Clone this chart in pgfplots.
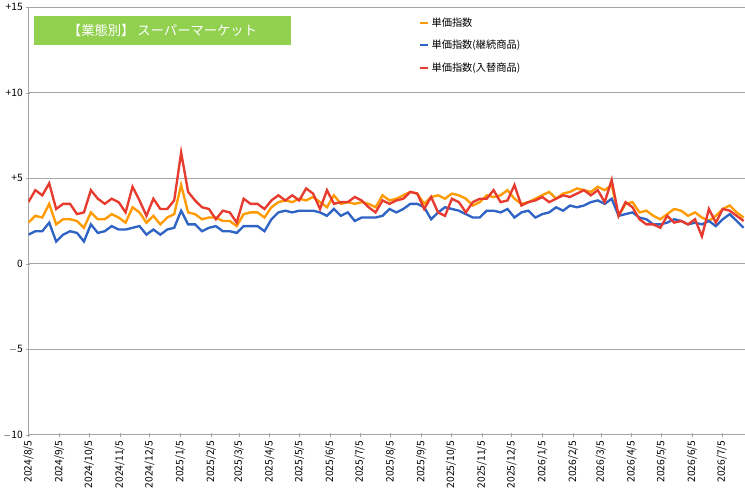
\documentclass[border=0pt]{standalone}
\usepackage{pgfplots}
\pgfplotsset{compat=1.18}
\usepackage{pgfplotstable}
\usepackage{fontspec}
\setmainfont{Noto Sans CJK JP}
\definecolor{cO}{HTML}{FF9A00}
\definecolor{cB}{HTML}{2F63C4}
\definecolor{cR}{HTML}{E63B2E}
\definecolor{cG}{HTML}{92D050}
\pgfplotstableread[row sep=\\]{y\\2.4\\2.8\\2.7\\3.5\\2.3\\2.6\\2.6\\2.5\\2.1\\3.0\\2.6\\2.6\\2.9\\2.7\\2.4\\3.3\\3.0\\2.4\\2.8\\2.3\\2.7\\2.9\\4.6\\3.0\\2.9\\2.6\\2.7\\2.7\\2.5\\2.5\\2.2\\2.9\\3.0\\3.0\\2.7\\3.3\\3.6\\3.7\\3.6\\3.8\\3.7\\3.9\\3.6\\3.3\\4.0\\3.5\\3.6\\3.5\\3.6\\3.5\\3.3\\4.0\\3.7\\3.8\\4.0\\4.2\\4.1\\3.5\\3.9\\4.0\\3.8\\4.1\\4.0\\3.8\\3.4\\3.6\\4.0\\3.9\\4.0\\4.3\\3.8\\3.5\\3.6\\3.8\\4.0\\4.2\\3.8\\4.1\\4.2\\4.4\\4.3\\4.2\\4.5\\4.3\\4.6\\2.8\\3.5\\3.6\\3.0\\3.1\\2.8\\2.6\\2.9\\3.2\\3.1\\2.8\\3.0\\2.7\\2.5\\2.8\\3.2\\3.4\\3.0\\2.7\\}\tO
\pgfplotstableread[row sep=\\]{y\\1.7\\1.9\\1.9\\2.4\\1.3\\1.7\\1.9\\1.8\\1.3\\2.3\\1.8\\1.9\\2.2\\2.0\\2.0\\2.1\\2.2\\1.7\\2.0\\1.7\\2.0\\2.1\\3.1\\2.3\\2.3\\1.9\\2.1\\2.2\\1.9\\1.9\\1.8\\2.2\\2.2\\2.2\\1.9\\2.6\\3.0\\3.1\\3.0\\3.1\\3.1\\3.1\\3.0\\2.8\\3.2\\2.8\\3.0\\2.5\\2.7\\2.7\\2.7\\2.8\\3.2\\3.0\\3.2\\3.5\\3.5\\3.3\\2.6\\3.0\\3.3\\3.2\\3.1\\2.9\\2.7\\2.7\\3.1\\3.1\\3.0\\3.2\\2.7\\3.0\\3.1\\2.7\\2.9\\3.0\\3.3\\3.1\\3.4\\3.3\\3.4\\3.6\\3.7\\3.5\\3.8\\2.8\\2.9\\3.0\\2.7\\2.6\\2.3\\2.3\\2.4\\2.6\\2.5\\2.3\\2.4\\2.3\\2.5\\2.2\\2.6\\2.9\\2.5\\2.1\\}\tB
\pgfplotstableread[row sep=\\]{y\\3.6\\4.3\\4.0\\4.7\\3.2\\3.5\\3.5\\2.9\\3.0\\4.3\\3.8\\3.5\\3.8\\3.6\\3.0\\4.5\\3.7\\2.8\\3.8\\3.2\\3.2\\3.7\\6.5\\4.2\\3.7\\3.3\\3.2\\2.6\\3.1\\3.0\\2.4\\3.8\\3.5\\3.5\\3.2\\3.7\\4.0\\3.7\\4.0\\3.7\\4.4\\4.1\\3.2\\4.3\\3.5\\3.6\\3.6\\3.9\\3.7\\3.3\\3.0\\3.7\\3.5\\3.7\\3.8\\4.2\\4.1\\3.2\\3.9\\3.0\\2.8\\3.8\\3.6\\3.0\\3.6\\3.8\\3.8\\4.3\\3.6\\3.7\\4.6\\3.4\\3.6\\3.7\\3.9\\3.6\\3.8\\4.0\\3.9\\4.1\\4.3\\4.0\\4.3\\3.6\\4.9\\2.8\\3.6\\3.3\\2.6\\2.3\\2.3\\2.1\\2.8\\2.4\\2.5\\2.3\\2.6\\1.6\\3.2\\2.4\\3.2\\3.1\\2.8\\2.5\\}\tR
\begin{document}
\begin{tikzpicture}
\begin{axis}[scale only axis, width=700pt, height=418pt,
  xmin=0, xmax=722, ymin=-10, ymax=15,
  ytick={-10,-5,0,5,10,15},
  yticklabels={$-$10,$-$5,0,+5,+10,+15},
  xtick={0,31,61,92,122,153,184,212,243,273,304,334,365,396,426,457,487,518,549,577,608,638,669,699},
  xticklabels={2024/8/5,2024/9/5,2024/10/5,2024/11/5,2024/12/5,2025/1/5,2025/2/5,2025/3/5,2025/4/5,2025/5/5,2025/6/5,2025/7/5,2025/8/5,2025/9/5,2025/10/5,2025/11/5,2025/12/5,2026/1/5,2026/2/5,2026/3/5,2026/4/5,2026/5/5,2026/6/5,2026/7/5},
  xticklabel style={rotate=90,anchor=east,font=\fontsize{10}{12}\selectfont},
  yticklabel style={font=\fontsize{10}{12}\selectfont},
  ymajorgrids, grid style={gray!70, line width=0.8pt},
  axis x line=bottom, axis y line=left,
  axis line style={gray!70, line width=0.8pt, -},
  x axis line style={draw=none},
  major tick length=4pt, tick style={gray!70},
  xtick pos=bottom, ytick pos=left,
  legend style={at={(0.54,0.985)}, anchor=north west, draw=none, fill=none,
    font=\fontsize{10}{12}\selectfont, row sep=8pt},
  legend cell align=left,
  legend image post style={xscale=0.5},
]
\addplot[cO, line width=2.3pt] table[x expr=\coordindex*7, y=y]{\tO};
\addlegendentry{単価指数}
\addplot[cB, line width=2.3pt] table[x expr=\coordindex*7, y=y]{\tB};
\addlegendentry{単価指数(継続商品)}
\addplot[cR, line width=2.3pt] table[x expr=\coordindex*7, y=y]{\tR};
\addlegendentry{単価指数(入替商品)}
\node[fill=cG, text=white, anchor=north west, minimum width=252pt, minimum height=28pt, font=\fontsize{13}{15}\selectfont, inner sep=2pt] at (rel axis cs:0.007,0.98) {【業態別】\ スーパーマーケット};
\end{axis}
\end{tikzpicture}
\end{document}
